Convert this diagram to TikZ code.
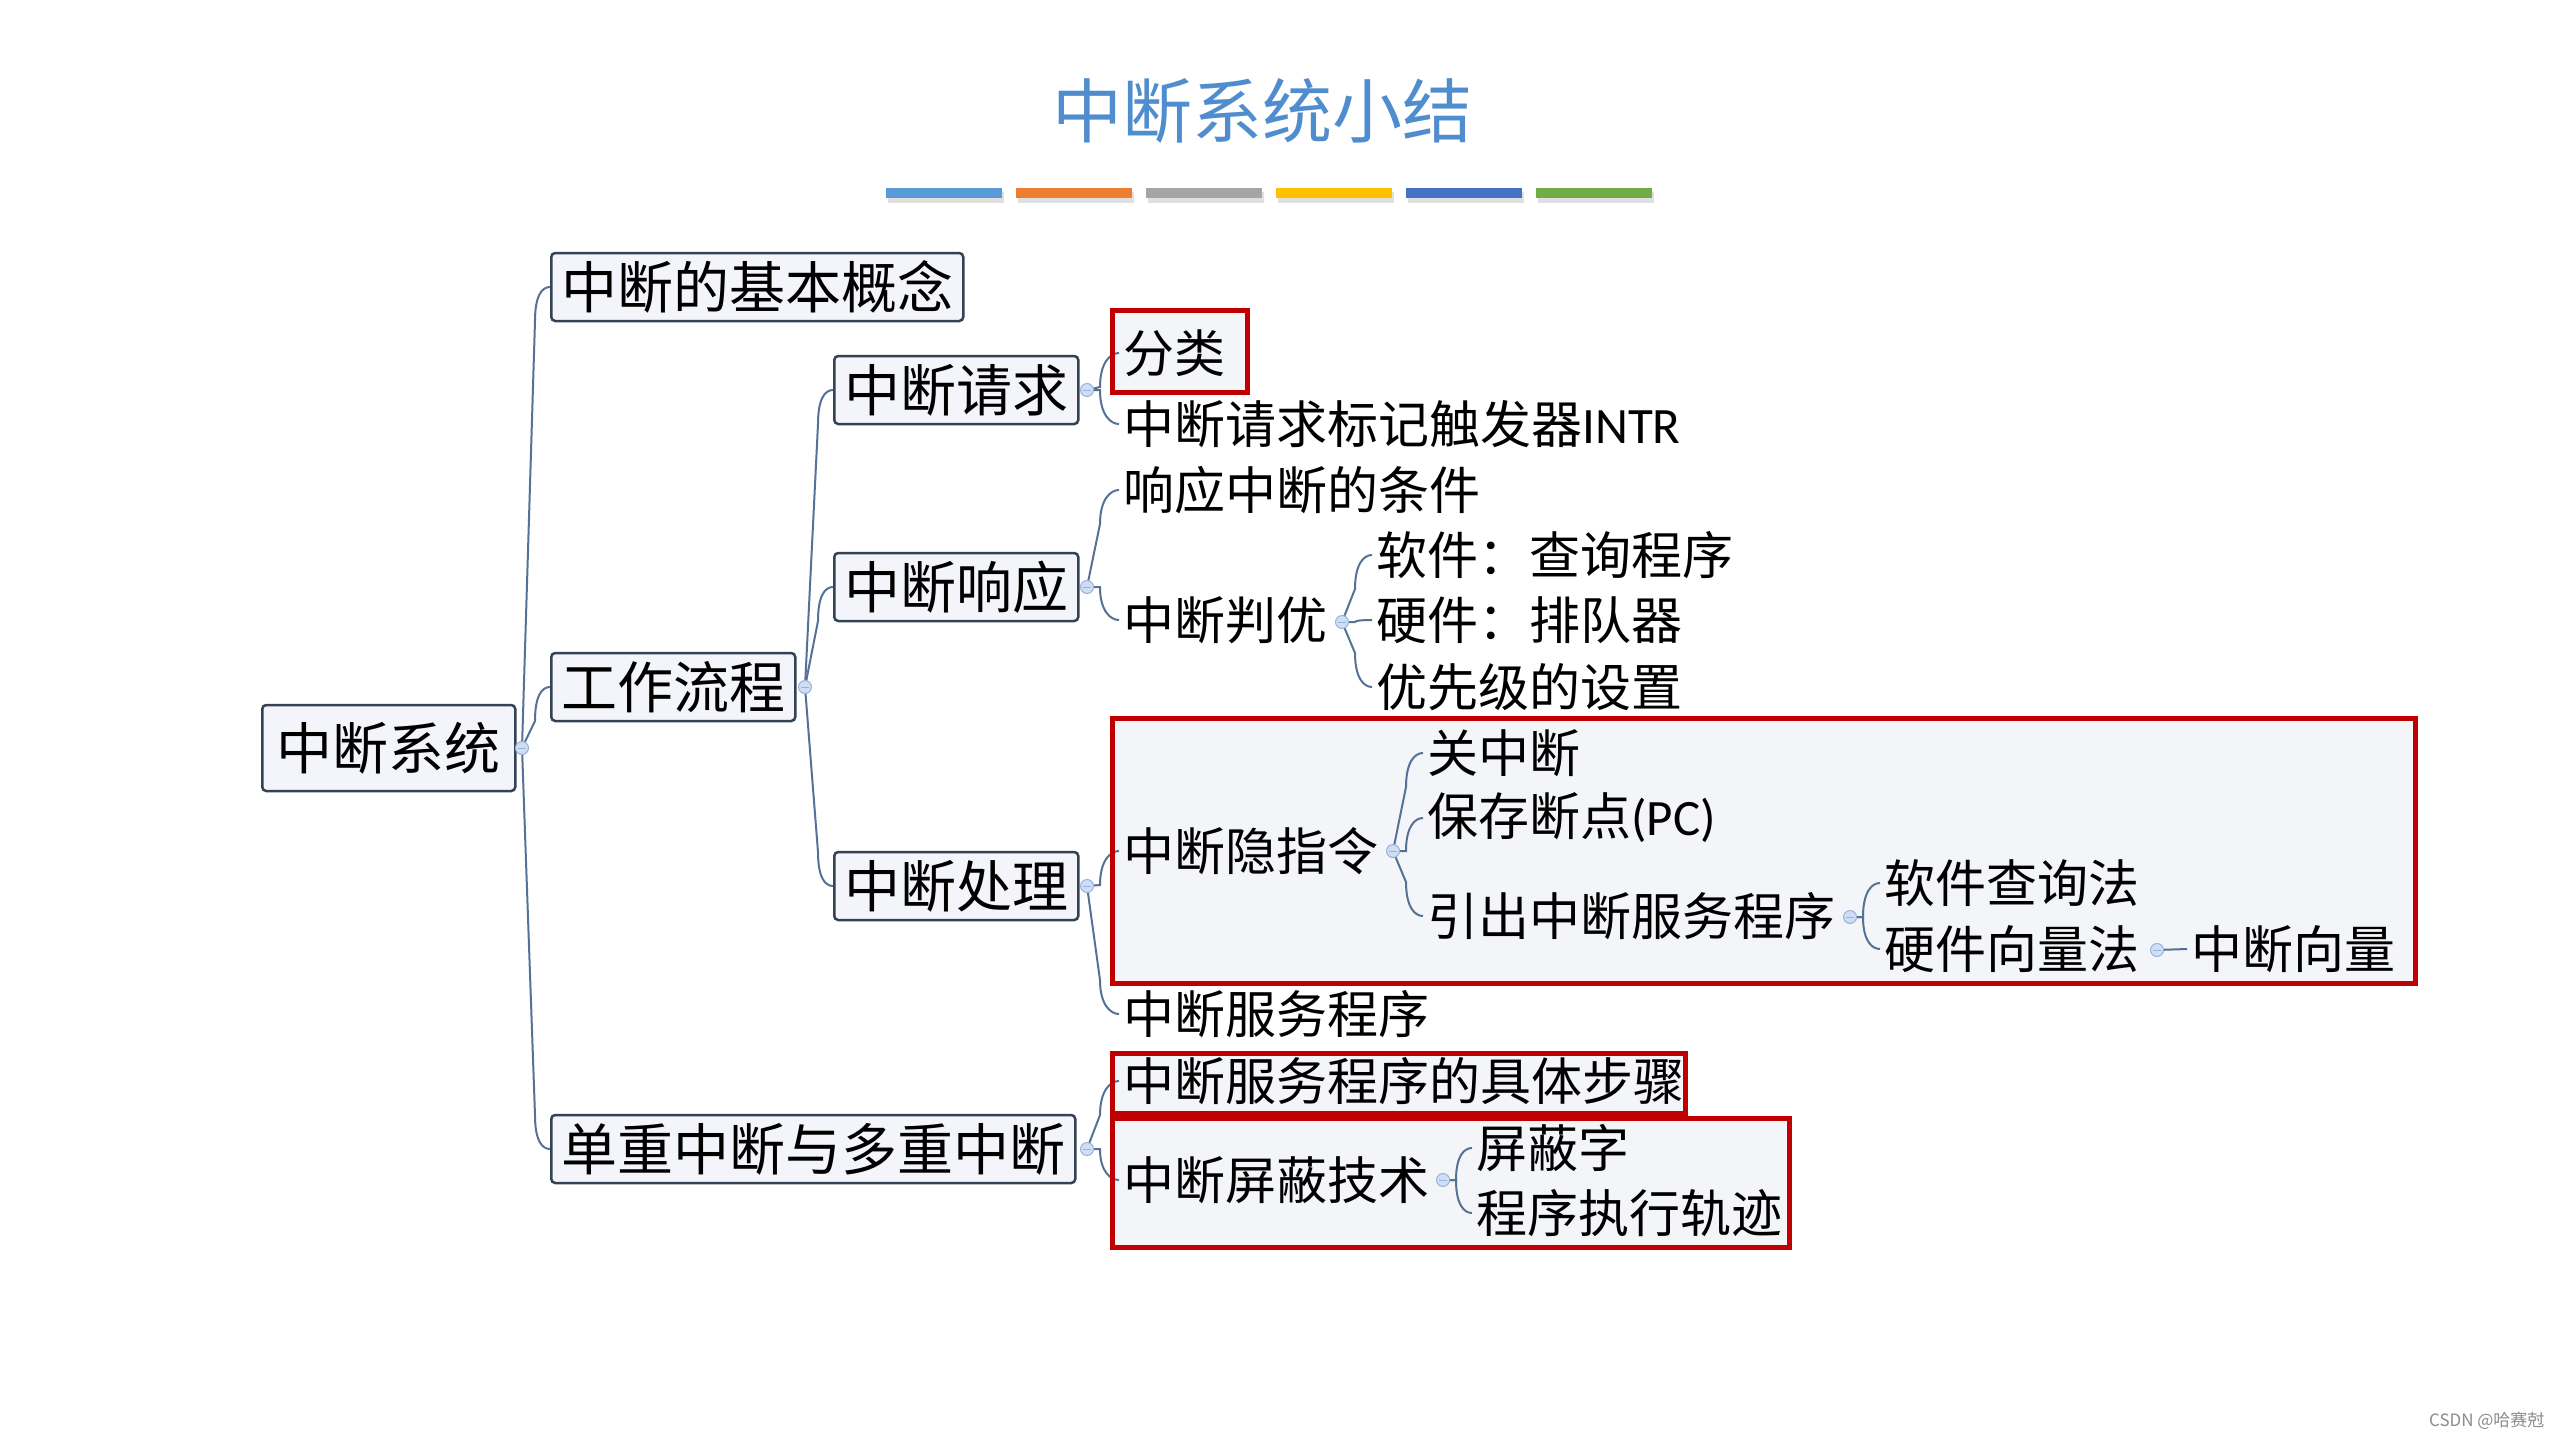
\documentclass[tikz,border=0pt]{standalone}
\usepackage{fontspec}
\setmainfont{Noto Sans CJK SC}
\newfontfamily\lat{Carlito}
\usetikzlibrary{calc}
\definecolor{titleblue}{RGB}{79,141,206}
\definecolor{bA}{RGB}{91,155,213}
\definecolor{bB}{RGB}{237,125,49}
\definecolor{bC}{RGB}{165,165,165}
\definecolor{bD}{RGB}{255,192,0}
\definecolor{bE}{RGB}{68,114,196}
\definecolor{bF}{RGB}{112,173,71}
\definecolor{boxfill}{RGB}{243,245,250}
\definecolor{boxline}{RGB}{52,66,86}
\definecolor{connc}{RGB}{84,114,150}
\definecolor{dotfill}{RGB}{208,222,243}
\definecolor{dotline}{RGB}{150,178,220}
\definecolor{hred}{RGB}{192,0,0}
\definecolor{hfill}{RGB}{244,245,248}
\newcommand\lnk[2]{\draw[conn] let \p1=(#1), \p2=(#2), \n1={max(-34,min(34,\y2-\y1))} in (\p1) -- (\x1+13pt,\y2-\n1) .. controls (\x1+13pt,{\y2-0.25*\n1}) and ({\x2-8pt},\y2) .. (\p2);}
\begin{document}
\begin{tikzpicture}[x=1pt,y=-1pt,
 topic/.style={draw=boxline, line width=2.5pt, fill=boxfill, rounded corners=4pt, anchor=west, inner xsep=10pt, inner ysep=0pt, minimum height=68pt, font=\fontsize{56}{60}\selectfont},
 sub/.style={anchor=west, inner xsep=4pt, inner ysep=2pt, font=\fontsize{51}{56}\selectfont},
 conn/.style={draw=connc, line width=2pt},
 dot/.style={circle, draw=dotline, fill=dotfill, line width=1pt, minimum size=13pt, inner sep=0pt},
 hline/.style={draw=hred, line width=5pt},
 hback/.style={fill=hfill},
 barshadow/.style={fill=black!12}
]
\useasboundingbox[fill=white] (0,0) rectangle (2560,1440);

% title
\node[font=\fontsize{70}{80}\selectfont, text=titleblue] (title) at (1262,111) {中断系统小结};
% colour bars
\foreach \xa/\c in {886/bA,1016/bB,1146/bC,1276/bD,1406/bE,1536/bF}{
  \fill[barshadow] (\xa+2,192) rectangle (\xa+118,203);
  \fill[\c] (\xa,188) rectangle (\xa+116,198);
}

% highlight backgrounds
\fill[hback] (1112,310) rectangle (1247,392);
\fill[hback] (1112,718) rectangle (2415,983);
\fill[hback] (1112,1053) rectangle (1685,1113);
\fill[hback] (1112,1118) rectangle (1789,1247);

% topics
\node[topic, minimum width=253pt, minimum height=86pt] (root) at (261,748) {中断系统};
\node[topic] (basic) at (550,287) {中断的基本概念};
\node[topic] (flow) at (550,687) {工作流程};
\node[topic] (multi) at (550,1149) {单重中断与多重中断};
\node[topic] (req) at (833,390) {中断请求};
\node[topic] (resp) at (833,587) {中断响应};
\node[topic] (proc) at (833,886) {中断处理};

% sub topics
\node[sub] (fl) at (1119,353) {分类};
\node[sub] (intr) at (1119,424) {中断请求标记触发器{\lat INTR}};
\node[sub] (cond) at (1119,490) {响应中断的条件};
\node[sub] (judge) at (1119,620) {中断判优};
\node[sub] (soft) at (1372,555) {软件：查询程序};
\node[sub] (hard) at (1372,620) {硬件：排队器};
\node[sub] (prio) at (1372,687) {优先级的设置};
\node[sub] (yin) at (1119,851) {中断隐指令};
\node[sub] (guan) at (1423,753) {关中断};
\node[sub] (save) at (1423,818) {保存断点{\lat (PC)}};
\node[sub] (yc) at (1423,916) {引出中断服务程序};
\node[sub] (sq) at (1880,883) {软件查询法};
\node[sub] (hv) at (1880,949) {硬件向量法};
\node[sub] (vec) at (2187,949) {中断向量};
\node[sub] (serv) at (1119,1014) {中断服务程序};
\node[sub] (steps) at (1119,1081) {中断服务程序的具体步骤};
\node[sub] (mask) at (1119,1180) {中断屏蔽技术};
\node[sub] (pbz) at (1472,1148) {屏蔽字};
\node[sub] (track) at (1472,1213) {程序执行轨迹};

% collapse markers
\coordinate (d0) at (522,748);
\coordinate (d1) at (805,687);
\coordinate (dq) at (1087,390);
\coordinate (dr) at (1087,587);
\coordinate (dp) at (1087,886);
\coordinate (dm) at (1087,1149);
\coordinate (dj) at (1342,622);
\coordinate (dy) at (1393,851);
\coordinate (dyc) at (1850,917);
\coordinate (dhv) at (2157,950);
\coordinate (dmk) at (1443,1180);

% connectors
\lnk{d0}{basic.west}
\lnk{d0}{flow.west}
\lnk{d0}{multi.west}
\lnk{d1}{req.west}
\lnk{d1}{resp.west}
\lnk{d1}{proc.west}
\lnk{dq}{fl.west}
\lnk{dq}{intr.west}
\lnk{dr}{cond.west}
\lnk{dr}{judge.west}
\lnk{dj}{soft.west}
\lnk{dj}{hard.west}
\lnk{dj}{prio.west}
\lnk{dp}{yin.west}
\lnk{dp}{serv.west}
\lnk{dy}{guan.west}
\lnk{dy}{save.west}
\lnk{dy}{yc.west}
\lnk{dyc}{sq.west}
\lnk{dyc}{hv.west}
\draw[conn] (dhv) -- (vec.west);
\lnk{dm}{steps.west}
\lnk{dm}{mask.west}
\lnk{dmk}{pbz.west}
\lnk{dmk}{track.west}

\foreach \d in {d0,d1,dq,dr,dp,dm,dj,dy,dyc,dhv,dmk}{
  \node[dot] at (\d) {};
  \draw[dotline, line width=1pt] ($(\d)+(-4,0)$) -- ($(\d)+(4,0)$);
}

% highlight borders
\draw[hline] (1112,310) rectangle (1247,392);
\draw[hline] (1112,718) rectangle (2415,983);
\draw[hline] (1112,1053) rectangle (1685,1113);
\draw[hline] (1112,1118) rectangle (1789,1247);

% watermark
\node[anchor=east, text=black!45, font=\fontsize{17}{20}\selectfont] (wm) at (2548,1421) {CSDN @哈赛尅};
\end{tikzpicture}
\end{document}
